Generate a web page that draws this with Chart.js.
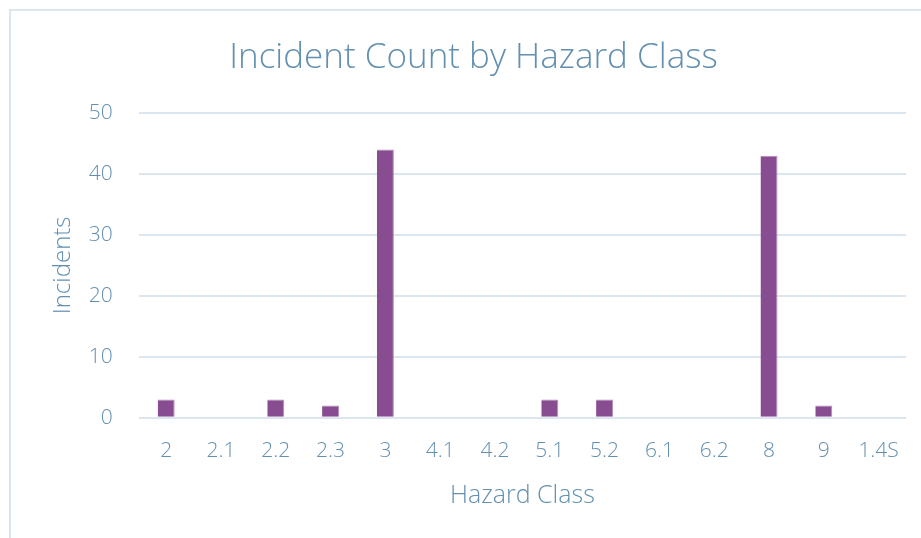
<!DOCTYPE html>
<html>
<head>
<meta charset="utf-8">
<script src="https://cdn.jsdelivr.net/npm/chart.js@4/dist/chart.umd.min.js"></script>
<style>
    body { margin: 0; background: #fff; }
    .frame {
        position: absolute; left: 9px; top: 9px;
        width: 940px; height: 540px;
        border: 2px solid #dce6ef;
    }
    .frame canvas { display: block; }
</style>
</head>
<body>
<div class="frame">
    <canvas id="hazardChart" width="926" height="528" style="width:926px;height:528px"></canvas>
</div>
<script>
// Incidents per hazard class
const hazardClasses = ['2', '2.1', '2.2', '2.3', '3', '4.1', '4.2', '5.1', '5.2', '6.1', '6.2', '8', '9', '1.4S'];
const incidentCounts = [3, 0, 3, 2, 44, 0, 0, 3, 3, 0, 0, 43, 2, 0];
const yTicks = [0, 10, 20, 30, 40, 50];

const textColor = '#6390b0';
const gridColor = '#dce6ef';
const fontFamily = "'Open Sans', 'Segoe UI', sans-serif";

const ctx = document.getElementById('hazardChart');

// note: chart.js reserves tick padding on both sides of the labels,
// so the axis titles get negative padding to pull them back in
new Chart(ctx, {
    type: 'bar',
    data: {
        labels: hazardClasses,
        datasets: [{
            label: 'Incidents',
            data: incidentCounts,
            backgroundColor: '#884c90',
            borderColor: '#b58bba',
            borderWidth: { top: 1, right: 1, left: 0, bottom: 0 },
            barPercentage: 0.62,
            categoryPercentage: 0.5
        }]
    },
    options: {
        responsive: false,
        animation: false,
        layout: { padding: { left: 30, right: 31, top: 0, bottom: 28 } },
        plugins: {
            legend: { display: false },
            tooltip: { enabled: false },
            title: {
                display: true,
                text: 'Incident Count by Hazard Class',
                color: textColor,
                font: { family: fontFamily, size: 35, weight: 300 },
                padding: { top: 26, bottom: 34 }
            }
        },
        scales: {
            x: {
                grid: { display: false, drawTicks: false },
                border: { display: false },
                ticks: {
                    color: textColor,
                    font: { family: fontFamily, size: 21, weight: 300 },
                    padding: 21,
                    maxRotation: 0,
                    autoSkip: false
                },
                title: {
                    display: true,
                    text: 'Hazard Class',
                    color: textColor,
                    font: { family: fontFamily, size: 25, weight: 300 },
                    padding: { top: -4, bottom: 0 }
                }
            },
            y: {
                min: 0,
                max: 50,
                afterBuildTicks: axis => {
                    axis.ticks = yTicks.map(v => ({ value: v }));
                },
                grid: { color: gridColor, lineWidth: 2, drawTicks: false },
                border: { display: false },
                ticks: {
                    color: textColor,
                    font: { family: fontFamily, size: 21, weight: 300 },
                    padding: 26
                },
                title: {
                    display: true,
                    text: 'Incidents',
                    color: textColor,
                    font: { family: fontFamily, size: 24, weight: 300 },
                    padding: { top: 8, bottom: -15 }
                }
            }
        }
    }
});
</script>
</body>
</html>
